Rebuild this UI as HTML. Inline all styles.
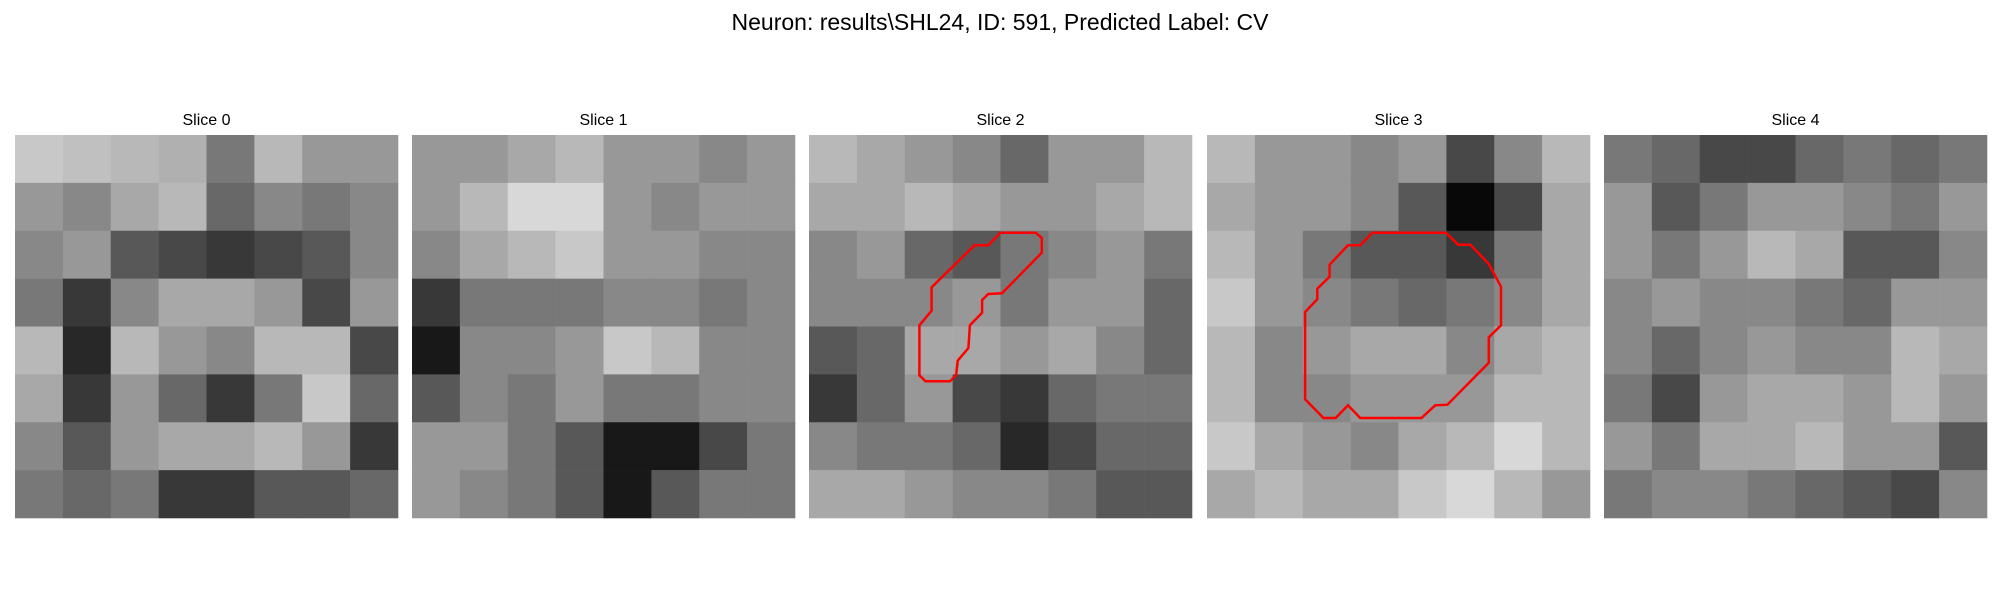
<!DOCTYPE html>
<html><head><meta charset="utf-8"><style>
html,body{margin:0;padding:0;background:#fff;}
svg{display:block;font-family:"Liberation Sans","DejaVu Sans",sans-serif;}
</style></head>
<body>
<svg id="fig" width="2000" height="600" viewBox="0 0 2000 600">
<rect x="0" y="0" width="2000" height="600" fill="#fff"/>
<text x="1000" y="30" text-anchor="middle" font-size="23" fill="#000">Neuron: results\SHL24, ID: 591, Predicted Label: CV</text>
<g id="panels"></g>
<polyline fill="none" stroke="#ff0000" stroke-width="2.5" points="1000.5,232.7 1035.7,232.7 1041.8,238 1041.8,252.7 1002,293.3 988.3,294 982.1,300 982.1,312.7 969.9,325.3 968.4,348 957.7,360.7 956.1,375.3 950,381.3 925.5,381.3 919.4,375.3 919.4,325.3 931.6,310.7 931.6,287.3 974.5,245.3 988.3,245.3 1000.5,232.7"/>
<polyline fill="none" stroke="#ff0000" stroke-width="2.5" points="1372.4,232.7 1445.9,232.7 1458.2,244.7 1470.4,244.7 1488.8,264 1501,286.7 1501,325.3 1488.8,337.3 1488.8,362.7 1447.4,404.7 1435.2,405.3 1421.4,418 1360.2,418 1348,405.3 1335.7,418 1323.5,418 1305.1,399.3 1305.1,312 1317.3,299.3 1317.3,288.7 1329.6,276.7 1329.6,264.7 1348,245.3 1360.2,245.3 1372.4,232.7"/>
</svg>
<script>
const sliceTitles = ["Slice 0","Slice 1","Slice 2","Slice 3","Slice 4"];
const slice0 = [
[180,175,170,165,130,170,150,150],
[150,140,160,170,120,140,130,140],
[140,150,110,100,90,100,110,140],
[130,90,140,160,160,150,100,150],
[170,80,170,150,140,170,170,100],
[160,90,150,120,90,130,180,120],
[140,110,150,160,160,170,150,90],
[130,120,130,90,90,110,110,120]];
const slice1 = [
[150,150,160,170,150,150,140,150],
[150,170,190,190,150,140,150,150],
[140,160,170,180,150,150,140,140],
[90,130,130,130,140,140,130,140],
[70,140,140,150,180,170,140,140],
[110,140,130,150,130,130,140,140],
[150,150,130,110,70,70,100,130],
[150,140,130,110,70,110,130,130]];
const slice2 = [
[170,160,150,140,120,150,150,170],
[160,160,170,160,150,150,160,170],
[140,150,120,110,130,140,150,130],
[140,140,140,150,130,150,150,120],
[110,120,160,160,150,160,140,120],
[90,120,150,100,90,120,130,130],
[140,130,130,120,80,100,120,120],
[160,160,150,140,140,130,110,110]];
const slice3 = [
[170,150,150,140,150,100,140,170],
[160,150,150,140,110,60,100,160],
[170,150,130,110,110,90,130,160],
[180,150,140,130,120,130,140,160],
[170,140,150,160,160,140,160,170],
[170,140,140,150,150,150,170,170],
[180,160,150,140,160,170,190,170],
[160,170,160,160,180,190,170,150]];
const slice4 = [
[130,120,100,100,120,130,120,130],
[150,110,130,150,150,140,130,150],
[150,130,150,170,160,110,110,140],
[140,150,140,140,130,120,150,150],
[140,120,140,150,140,140,170,160],
[130,100,150,160,160,150,170,150],
[150,130,160,160,170,150,150,110],
[130,140,140,130,120,110,100,140]];
const slices = [slice0, slice1, slice2, slice3, slice4];

const NS = "http://www.w3.org/2000/svg";
const panelLeft = [15, 412, 809, 1207, 1604];
const panelTop = 135, panelSize = 383;
const g = document.getElementById('panels');
function xScale(p, c, n){ return panelLeft[p] + c * panelSize / n; }
function yScale(r, n){ return panelTop + r * panelSize / n; }
function colorScale(v){ return Math.max(0, Math.min(255, Math.round(128 + (v - 135) * 1.6))); }
slices.forEach((grid, p) => {
  const n = grid.length;
  const pg = document.createElementNS(NS, 'g');
  
  
  grid.forEach((row, r) => {
    row.forEach((v, c) => {
      const rect = document.createElementNS(NS, 'rect');
      const x0 = xScale(p, c, n), x1 = xScale(p, c + 1, n);
      const y0 = yScale(r, n), y1 = yScale(r + 1, n);
      const g2 = colorScale(v);
      rect.setAttribute('x', x0.toFixed(2));
      rect.setAttribute('y', y0.toFixed(2));
      rect.setAttribute('width', (x1 - x0 + 0.3).toFixed(2));
      rect.setAttribute('height', (y1 - y0 + 0.3).toFixed(2));
      rect.setAttribute('fill', `rgb(${g2},${g2},${g2})`);
      
      
      pg.appendChild(rect);
    });
  });
  const t = document.createElementNS(NS, 'text');
  t.setAttribute('x', (panelLeft[p] + panelSize / 2).toFixed(1));
  t.setAttribute('y', '125');
  t.setAttribute('text-anchor', 'middle');
  t.setAttribute('font-size', '16');
  t.textContent = sliceTitles[p];
  
  
  pg.appendChild(t);
  g.appendChild(pg);
});
</script>
</body></html>
